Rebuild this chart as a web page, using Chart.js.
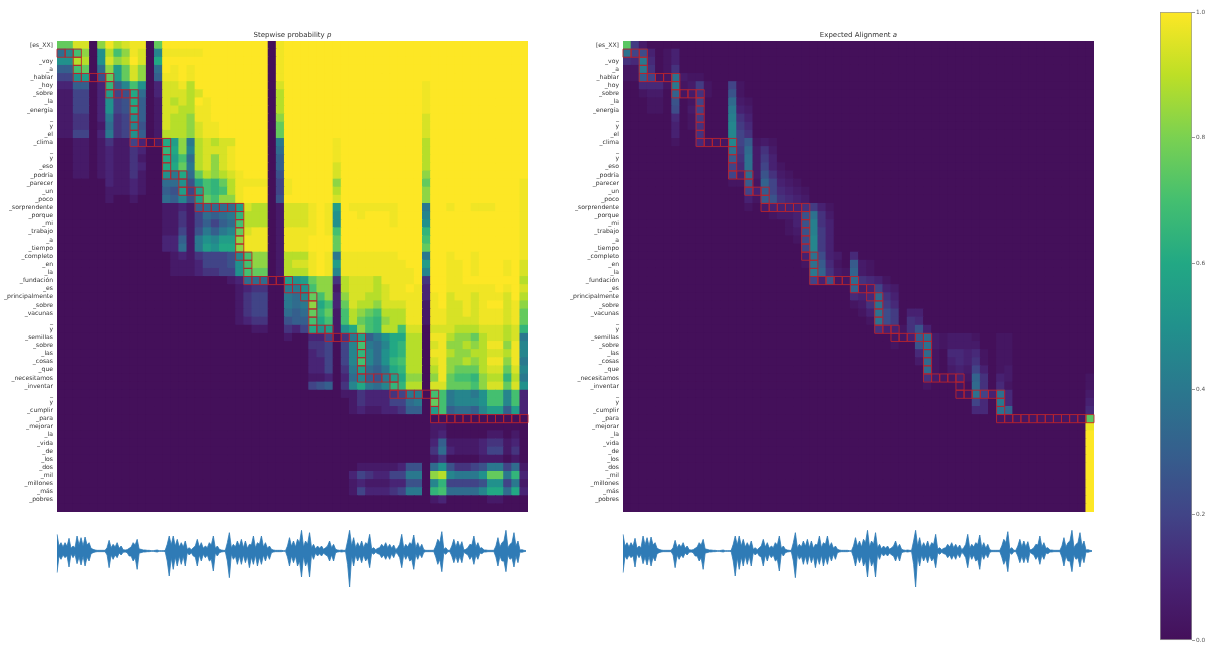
<!DOCTYPE html>
<html>
<head>
<meta charset="utf-8">
<title>Stepwise probability and expected alignment</title>
<script src="https://cdn.jsdelivr.net/npm/chart.js@4/dist/chart.umd.min.js"></script>
<style>
    html, body { margin: 0; padding: 0; background: #fff; }
    body { position: relative; width: 1206px; height: 645px; overflow: hidden; font-family: "DejaVu Sans", sans-serif; filter: blur(0.4px); }
    canvas { position: absolute; }
    .title { position: absolute; top: 30px; width: 471px; text-align: center; font-size: 7px; line-height: 10px; color: #333; }
</style>
</head>
<body>
<canvas id="stepwise" width="540" height="520" style="left:0;top:0"></canvas>
<canvas id="alignment" width="540" height="520" style="left:566px;top:0"></canvas>
<canvas id="waveLeft" width="500" height="75" style="left:40px;top:520px"></canvas>
<canvas id="waveRight" width="500" height="75" style="left:606px;top:520px"></canvas>
<canvas id="colorbar" width="56" height="645" style="left:1150px;top:0"></canvas>
<div class="title" style="left:57px">Stepwise probability <i>p</i></div>
<div class="title" style="left:623px">Expected Alignment <i>a</i></div>
<script>
// target tokens, one per row (two rows have no visible token)
const rowLabels = ['[es_XX]', '', '_voy', '_a', '_hablar', '_hoy', '_sobre', '_la', '_energía', '_', 'y', '_el', '_clima',
    '_', 'y', '_eso', '_podría', '_parecer', '_un', '_poco', '_sorprendente', '_porque', '_mi', '_trabajo', '_a', '_tiempo',
    '_completo', '_en', '_la', '_fundación', '_es', '_principalmente', '_sobre', '_vacunas', '_', 'y', '_semillas', '_sobre',
    '_las', '_cosas', '_que', '_necesitamos', '_inventar', '_', 'y', '_cumplir', '_para', '_mejorar', '_la', '_vida', '_de',
    '_los', '_dos', '_mil', '_millones', '_más', '_pobres', ''];
const colLabels = rowLabels.map((_, i) => String(i));

// one character per cell, see stepwiseLevels
const stepwiseRows = [
    'ffii0gjhijj0f kkkkkkkkkkkkk 0j kkkkkk k kkkkkkkkkk k kkkkkkkkkkkk',
    '79eg0ahegji09 jjjjjkkkkkkkk 0j kkkkkk k kkkkkkkkkk k kkkkkkkkkkkk',
    'aahh0aighki0c kkkkkkkkkkkkk 0j kkkkkk k kkkkkkkkkk k kkkkkkkkkkkk',
    '66ef07gbfig07 kjkjkkkkkkkkk 0j kkkkkk k kkkkkkkkkk k kkkkkkkkkkkk',
    '44ab05fbfig06 jjkjkkkkkkkkk 0j kkkkkk k kkkkkkkkkk k kkkkkkkkkkkk',
    '226602d69ea02 iijhkkkkkkkkk 0i kkkkkk k kkkkkkkkkk j kkkkkkkkkkkk',
    '114402b45c702 iiihikkkkkkkk 0h kkkkkk k kkkkkkkkkk j kkkkkkkkkkkk',
    '114402a45c601 ihihkjkkkkkkk 0h kkkkkk k kkkkkkkkkk j kkkkkkkkkkkk',
    '114402a45c601 iihhjjkkkkkkk 0h kkkkkk k kkkkkkkkkk j kkkkkkkkkkkk',
    '113302834a601 ihhgjjkkkkkkk 0g kkkkkk k kkkkkkkkkk i kkkkkkkkkkkk',
    '1133017349501 ihhgijjkkkkkk 0f kkkkkk k kkkkkkkkkk i kkkkkkkkkkkk',
    '114402834a601 hhhgijjkkkkkk 0f kkkkkk k kkkkkkkkkk i kkkkkkkkkkkk',
    '0011013114201 cbg8hihiikkkk 08 kkkkkk j kkkkkkkkkk h kkkkkkkkkkkk',
    '0011012113200 dcg9hiiijkkkk 07 kkkkkk j kkkkkkkkkk h kkkkkkkkkkkk',
    '0011012113100 cbe7higijkkkk 06 kkkkkk j kkkkkkkkkk h kkkkkkkkkkkk',
    '0011012113200 ccf8higijkkkk 06 kkkkkk i kkkkkkkkkk h kkkkkkkkkkkk',
    '0011012113100 a8c7fhghijkkk 05 kkkkkk i kkkkkkkkkk g kkkkkkkkkkkk',
    '0000002112100 77a5bedfhjjjj 04 jkkkkk g kkkkkkkkkk f kkkkkkkkkkkj',
    '0000001112100 65b4bedehjkkk 04 jkkkkk h kkkkkkkkkk g kkkkkkkkkkkj',
    '0000001001000 7695bfeggjkkk 05 kkkkkk i kkkkkkkkkk g kkkkkkkkkkkj',
    '0000000000000 112167777bihh 01 iiijkj b kjjjjjjkkk 8 kkjkkjjjkkkj',
    '0000000000000 113147678dhhh 01 iiijkj a kkjkkkjkkk 9 kkkkkkkkkkkj',
    '0000000000000 113146467ehhh 01 iiijkj a kkkkkkjkkk a kkkkkkkkkkkj',
    '0000000000000 114158689fijj 01 jjjjkj e kkkkkkkkkk d kkkkkkkkkkkj',
    '0000000000000 22618a9bbgjjj 01 jjjkkk f kkkkkkkkkk e kkkkkkkkkkkj',
    '0000000000000 22718baccgjjj 01 jjjkkk f kkkkkkkkkk f kkkkkkkkkkkj',
    '0000000000000 0121344459egg 01 hhhjkj 8 jjjjjjjkkk 8 kkjkkjkkkkkj',
    '0000000000000 011124445aegg 01 hiijkj b jjjjjjjjkk b kkjjkjkkkjki',
    '0000000000000 011123344aeff 01 hhhjkj 9 jjjjjjjjjk 9 kkjjkjkkkjki',
    '0000000000000 0000000012777 00 babfgg 3 hiiihjjjjk 3 kkjjkkkkkkkh',
    '0000000000000 0000000001233 00 88aegg 1 hiiihijjkj 2 kkjjjjjjkjki',
    '0000000000000 0000000001344 00 879feg 2 giihhijjjj 2 jkijjijjjikh',
    '0000000000000 0000000001344 00 878gce 2 fihhgiiijj 1 jkiijijkkijg',
    '0000000000000 0000000001344 00 767fdf 1 ehgfehhhjj 1 jjiijijjjijf',
    '0000000000000 0000000001233 00 566ece 1 ehfedghhjj 1 jjiiiijjjijf',
    '0000000000000 0000000000011 00 324cab 1 acgedhheii 0 iiihhhiiihid',
    '0000000000000 0000000000000 00 100224 0 38b68acchh 0 jjhggfhiihi8',
    '0000000000000 0000000000000 00 000334 0 49e879cdhh 0 ijgghghjjgj9',
    '0000000000000 0000000000000 00 000234 0 49d97acdhh 0 jjhgghhiihj9',
    '0000000000000 0000000000000 00 000224 0 49e97adehh 0 ijgghghjjgj8',
    '0000000000000 0000000000000 00 000224 0 38b768cdhh 0 hjgfffhiifi9',
    '0000000000000 0000000000000 00 000112 0 279658bcgg 0 gjfeedghhdh8',
    '0000000000000 0000000000000 00 000456 0 39c879ddhh 0 iifffegiifia',
    '0000000000000 0000000000000 00 000000 0 1132223488 0 ee8998aee9e2',
    '0000000000000 0000000000000 00 000000 0 0132224478 0 fe8999aee9e2',
    '0000000000000 0000000000000 00 000000 0 0121122366 0 be67769bb6b2',
    '0000000000000 0000000000000 00 000000 0 0000000000 0 000000000000',
    '0000000000000 0000000000000 00 000000 0 0000000000 0 110000000000',
    '0000000000000 0000000000000 00 000000 0 0000000000 0 120000011010',
    '0000000000000 0000000000000 00 000000 0 0000000000 0 261111233120',
    '0000000000000 0000000000000 00 000000 0 0000000000 0 372111244130',
    '0000000000000 0000000000000 00 000000 0 0000000000 0 130000111010',
    '0000000000000 0000000000000 00 000000 0 0011111255 0 7a5334588471',
    '0000000000000 0000000000000 00 000000 0 0243224488 0 gh9888aff8d2',
    '0000000000000 0000000000000 00 000000 0 0121112255 0 9d44445aa481',
    '0000000000000 0000000000000 00 000000 0 0142223488 0 de77779cc7c2',
    '0000000000000 0000000000000 00 000000 0 0000000000 0 120000011000',
    '0000000000000 0000000000000 00 000000 0 0000000000 0 000000000000'
];
// value of each character 0-9a-k
const stepwiseLevels = [0, .05, .1, .15, .2, .25, .3, .35, .4, .45, .5, .55, .6, .65, .7, .76, .83, .89, .94, .98, 1];

// same idea, finer steps because most of this panel is faint: 0-9a-z is 0 to 1 in steps of 1/35
const alignmentRows = [
    'q620000000 0000000000 0000000000 0000000000 0000000000 00000000',
    'd783013000 0000000000 0000000000 0000000000 0000000000 00000000',
    '54e4013000 0000000000 0000000000 0000000000 0000000000 00000000',
    '11e5015000 0000000000 0000000000 0000000000 0000000000 00000000',
    '11a711d211 0000000000 0000000000 0000000000 0000000000 00000000',
    '004441e126 1007100000 0000000000 0000000000 0000000000 00000000',
    '001220b125 1009100000 0000000000 0000000000 0000000000 00000000',
    '0001109017 000c210000 0000000000 0000000000 0000000000 00000000',
    '0001108027 000e320000 0000000000 0000000000 0000000000 00000000',
    '0000004016 000f530000 0000000000 0000000000 0000000000 00000000',
    '0000003015 000g640000 0000000000 0000000000 0000000000 00000000',
    '0000003005 000g750000 0000000000 0000000000 0000000000 00000000',
    '0000001004 111g7a1210 0000000000 0000000000 0000000000 00000000',
    '0000000000 000d6c2520 0000000000 0000000000 0000000000 00000000',
    '0000000000 000a5d2630 0000000000 0000000000 0000000000 00000000',
    '0000000000 00074d2731 0000000000 0000000000 0000000000 00000000',
    '0000000000 00073c2952 1000000000 0000000000 0000000000 00000000',
    '0000000000 00011a1b73 2100000000 0000000000 0000000000 00000000',
    '0000000000 0000073a74 3210000000 0000000000 0000000000 00000000',
    '0000000000 0000031a95 4320000000 0000000000 0000000000 00000000',
    '0000000000 0000010233 3356310000 0000000000 0000000000 00000000',
    '0000000000 0000000012 239d520000 0000000000 0000000000 00000000',
    '0000000000 0000000000 139f530000 0000000000 0000000000 00000000',
    '0000000000 0000000000 129f630000 0000000000 0000000000 00000000',
    '0000000000 0000000000 018g630000 0000000000 0000000000 00000000',
    '0000000000 0000000000 007g630000 0000000000 0000000000 00000000',
    '0000000000 0000000000 003d832040 0000000000 0000000000 00000000',
    '0000000000 0000000000 001da410a2 1000000000 0000000000 00000000',
    '0000000000 0000000000 000eb521b2 1000000000 0000000000 00000000',
    '0000000000 0000000000 00073911c5 4310000000 0000000000 00000000',
    '0000000000 0000000000 00000000b2 3732000000 0000000000 00000000',
    '0000000000 0000000000 0000000043 4c53000000 0000000000 00000000',
    '0000000000 0000000000 0000000012 5d64000000 0000000000 00000000',
    '0000000000 0000000000 0000000001 3d86033000 0000000000 00000000',
    '0000000000 0000000000 0000000000 1d86054000 0000000000 00000000',
    '0000000000 0000000000 0000000000 0533159300 0000000000 00000000',
    '0000000000 0000000000 0000000000 000113ac21 2221001100 00000000',
    '0000000000 0000000000 0000000000 0001009d21 2222001100 00000000',
    '0000000000 0000000000 0000000000 0000004c10 4434101100 00000000',
    '0000000000 0000000000 0000000000 0000002c10 3435101100 00000000',
    '0000000000 0000000000 0000000000 0000000c10 2327301200 00000000',
    '0000000000 0000000000 0000000000 0000000521 131b503200 00000001',
    '0000000000 0000000000 0000000000 0000000100 010c504100 00000001',
    '0000000000 0000000000 0000000000 0000000000 011d73d400 00000002',
    '0000000000 0000000000 0000000000 0000000000 000740e400 00000003',
    '0000000000 0000000000 0000000000 0000000000 000440db00 00000004',
    '0000000000 0000000000 0000000000 0000000000 0000001111 1111111q',
    '0000000000 0000000000 0000000000 0000000000 0000000000 0000000y',
    '0000000000 0000000000 0000000000 0000000000 0000000000 0000000z',
    '0000000000 0000000000 0000000000 0000000000 0000000000 0000000z',
    '0000000000 0000000000 0000000000 0000000000 0000000000 0000000z',
    '0000000000 0000000000 0000000000 0000000000 0000000000 0000000z',
    '0000000000 0000000000 0000000000 0000000000 0000000000 0000000z',
    '0000000000 0000000000 0000000000 0000000000 0000000000 0000000z',
    '0000000000 0000000000 0000000000 0000000000 0000000000 0000000z',
    '0000000000 0000000000 0000000000 0000000000 0000000000 0000000z',
    '0000000000 0000000000 0000000000 0000000000 0000000000 0000000z',
    '0000000000 0000000000 0000000000 0000000000 0000000000 0000000z'
];
const alignmentSteps = 35;

// most likely path: on row pathRows[i] the red boxes run from pathFirstCol[i] to pathLastCol[i]
const pathRows = [1,2,3,4,5,6,7,8,9,10,11,12,13,14,15,16,17,18,19,20,21,22,23,24,25,26,27,28,29,30,31,32,33,34,35,36,37,38,39,40,41,42,43,44,45,46];
const pathFirstCol = [0,2,2,2,6,6,9,9,9,9,9,9,13,13,13,13,15,15,17,17,22,22,22,22,22,22,23,23,23,28,30,31,31,31,31,33,37,37,37,37,37,41,41,46,46,46];
const pathLastCol = [2,2,2,6,6,9,9,9,9,9,9,13,13,13,13,15,15,17,17,22,22,22,22,22,22,23,23,23,28,30,31,31,31,31,33,37,37,37,37,37,41,41,46,46,46,57];

// audio envelope, above and below the centre line
const waveUp = [50,15,25,12,25,14,38,8,15,10,45,18,40,15,42,18,25,8,5,3,
    2,2,2,2,2,10,32,10,20,12,25,8,15,4,3,4,8,12,25,18,
    35,6,5,3,3,2,2,1,1,2,3,1,1,1,2,20,45,18,45,15,
    35,12,25,12,30,5,10,4,10,15,35,12,25,8,15,10,25,18,45,8,
    15,5,3,2,2,25,55,10,20,12,30,14,35,10,30,8,20,18,45,10,
    25,20,45,12,25,8,15,5,3,2,2,2,2,1,1,15,40,14,30,12,
    35,25,62,12,30,20,55,10,20,6,15,8,15,5,10,15,30,10,20,5,
    3,2,3,2,2,30,62,15,40,10,25,12,30,10,25,20,50,6,10,4,
    8,10,20,12,25,10,20,8,18,4,10,20,50,8,20,12,25,20,48,10,
    25,8,20,4,2,2,2,2,2,15,35,25,58,5,10,2,2,15,35,12,
    30,12,28,3,5,10,20,18,45,12,25,8,10,3,3,2,2,2,2,15,
    40,12,25,30,62,10,20,25,55,15,30,3,4,2,1];
const waveDown = [65,15,25,12,20,14,48,8,20,10,38,18,42,15,45,18,30,8,5,3,
    2,2,2,2,2,12,50,12,25,12,20,6,12,4,3,5,15,15,30,20,
    55,6,5,3,3,2,2,1,1,2,3,1,1,1,2,30,75,20,55,18,
    45,15,40,15,45,5,12,5,15,18,45,12,30,10,20,12,30,25,60,6,
    15,5,3,2,2,30,80,10,25,15,40,15,40,12,35,15,50,18,40,12,
    45,18,40,12,30,10,25,5,3,2,2,2,2,1,1,18,45,15,35,15,
    45,30,78,15,45,30,78,10,25,6,15,8,15,6,12,15,30,12,30,5,
    3,2,3,2,2,40,108,15,45,12,30,15,35,12,30,20,50,5,10,4,
    8,10,20,12,25,12,25,8,20,4,10,20,50,10,25,12,30,25,55,10,
    25,8,20,4,2,2,2,2,2,18,40,25,62,5,10,2,2,15,35,15,
    35,15,35,4,8,12,25,15,40,12,25,6,8,3,3,2,2,2,2,18,
    45,15,30,30,62,12,25,20,48,15,35,3,4,2,1];

const colorbarTicks = [0, 0.2, 0.4, 0.6, 0.8, 1];
const viridis = ['#44105a', '#482475', '#414487', '#355f8d', '#2a788e', '#21918c', '#22a884', '#44bf70', '#7ad151', '#bddf26', '#fde725'];

Chart.defaults.animation = false;
Chart.defaults.responsive = false;
Chart.defaults.font.family = '"DejaVu Sans", sans-serif';
Chart.defaults.plugins.legend.display = false;
Chart.defaults.plugins.tooltip.enabled = false;

function hexToRgb(hex) {
    return [1, 3, 5].map(i => parseInt(hex.slice(i, i + 2), 16));
}

function viridisColor(v) {
    const pos = Math.min(v, 1) * (viridis.length - 1);
    const low = Math.min(Math.floor(pos), viridis.length - 2);
    const a = hexToRgb(viridis[low]);
    const b = hexToRgb(viridis[low + 1]);
    const rgb = a.map((x, i) => Math.round(x + (b[i] - x) * (pos - low)));
    return `rgb(${rgb[0]},${rgb[1]},${rgb[2]})`;
}

function decodeCells(rows, level) {
    const cells = [];
    rows.forEach((row, r) => {
        [...row.replace(/ /g, '')].forEach((ch, c) => {
            cells.push({ x: c, y: r, v: level(parseInt(ch, 36)) });
        });
    });
    return cells;
}

function pathCells() {
    const cells = [];
    pathRows.forEach((r, i) => {
        for (let c = pathFirstCol[i]; c <= pathLastCol[i]; c++) cells.push({ x: c, y: r });
    });
    return cells;
}

// a 'rect' point of radius r is a square of side r * sqrt(2)
function cellRadius(ctx, extra) {
    return ctx.chart.scales.x.width / colLabels.length / Math.SQRT2 + extra;
}

function makeHeatmap(id, rows, level) {
    new Chart(document.getElementById(id), {
        type: 'scatter',
        data: {
            datasets: [{
                data: pathCells(),
                parsing: false,
                clip: 2,
                pointStyle: 'rect',
                pointRadius: ctx => cellRadius(ctx, 0),
                pointBackgroundColor: 'rgba(0,0,0,0)',
                pointBorderColor: 'rgba(185,35,45,0.9)',
                pointBorderWidth: 1
            }, {
                data: decodeCells(rows, level),
                parsing: false,
                clip: 0,
                pointStyle: 'rect',
                pointRadius: ctx => cellRadius(ctx, 0.6),
                pointBackgroundColor: ctx => viridisColor(ctx.raw.v),
                pointBorderWidth: 0
            }]
        },
        options: {
            layout: { padding: { top: 41, bottom: 8, right: 12 } },
            scales: {
                x: { type: 'category', labels: colLabels, offset: true, display: false },
                y: {
                    type: 'category',
                    labels: rowLabels,
                    offset: true,
                    afterFit: scale => { scale.width = 57; },
                    grid: { display: false, drawTicks: false },
                    border: { display: false },
                    ticks: { autoSkip: false, padding: 4, color: '#333', font: { size: 6.1 } }
                }
            }
        }
    });
}

function makeWave(id) {
    const waveColor = '#2f7bb6';
    new Chart(document.getElementById(id), {
        type: 'line',
        data: {
            labels: waveUp.map((_, i) => i),
            datasets: [
                { data: waveUp, borderColor: waveColor, backgroundColor: waveColor, borderWidth: 0.8, pointRadius: 0, tension: 0, fill: '+1' },
                { data: waveDown.map(d => -d), borderColor: waveColor, borderWidth: 0.8, pointRadius: 0, tension: 0, fill: false }
            ]
        },
        options: {
            layout: { padding: { left: 17, right: 14 } },
            scales: {
                x: { display: false },
                y: { display: false, min: -132, max: 93 }
            }
        }
    });
}

function makeColorbar() {
    new Chart(document.getElementById('colorbar'), {
        type: 'bar',
        data: {
            labels: [''],
            datasets: [{
                data: [[0, 1]],
                barPercentage: 1,
                categoryPercentage: 1,
                borderWidth: 1,
                borderColor: '#999',
                borderSkipped: false,
                backgroundColor: ctx => {
                    const area = ctx.chart.chartArea;
                    if (!area) return viridis[0];
                    const grad = ctx.chart.ctx.createLinearGradient(0, area.bottom, 0, area.top);
                    viridis.forEach((col, i) => grad.addColorStop(i / (viridis.length - 1), col));
                    return grad;
                }
            }]
        },
        options: {
            layout: { padding: { left: 10, top: 12, bottom: 3 } },
            scales: {
                x: { display: false },
                y: {
                    position: 'right',
                    min: 0,
                    max: 1,
                    afterFit: scale => { scale.width = 14; },
                    afterBuildTicks: scale => { scale.ticks = colorbarTicks.map(value => ({ value })); },
                    grid: { drawOnChartArea: false, tickLength: 3, color: '#999' },
                    border: { display: false },
                    ticks: { padding: 1, color: '#555', font: { size: 5.8 }, callback: v => v.toFixed(1) }
                }
            }
        }
    });
}

makeHeatmap('stepwise', stepwiseRows, i => stepwiseLevels[i]);
makeHeatmap('alignment', alignmentRows, i => i / alignmentSteps);
makeWave('waveLeft');
makeWave('waveRight');
makeColorbar();
</script>
</body>
</html>
